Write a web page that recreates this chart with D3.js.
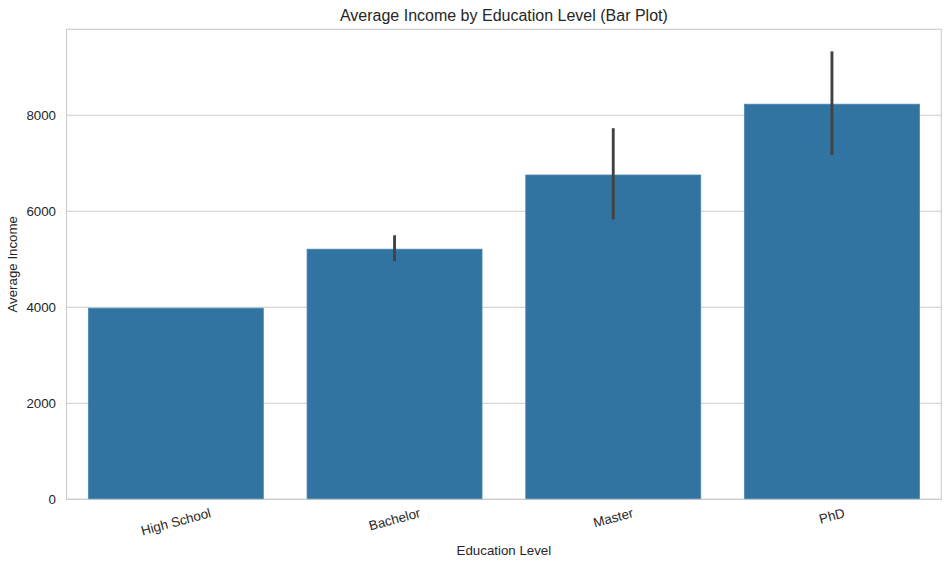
<!DOCTYPE html>
<html><head><meta charset="utf-8">
<script src="https://cdn.jsdelivr.net/npm/d3@7/dist/d3.min.js"></script>
<style>body{margin:0;background:#fff;} text{font-family:"Liberation Sans",Arial,sans-serif;fill:#262626;}</style>
</head><body><svg id="c" width="950" height="566"></svg>
<script>
const categories = ["High School","Bachelor","Master","PhD"];
const means = [3980, 5210, 6755, 8230];
const ciLow = [null, 4960, 5830, 7170];
const ciHigh = [null, 5500, 7730, 9330];
const yTicks = [0,2000,4000,6000,8000];
const yMax = 9790;

const svg = d3.select("#c");
const L=66.5, R=941.3, T=29.3, B=499.3;
const x = d3.scaleBand().domain(categories).range([L,R]).paddingInner(0.2).paddingOuter(0.1);
const y = d3.scaleLinear().domain([0,yMax]).range([B,T]);

// grid
svg.append("g").selectAll("line").data(yTicks).join("line")
  .attr("x1",L).attr("x2",R).attr("y1",d=>y(d)).attr("y2",d=>y(d))
  .attr("stroke","#cccccc").attr("stroke-width",1);

// bars
svg.append("g").selectAll("rect").data(categories).join("rect")
  .attr("x",d=>x(d)).attr("width",x.bandwidth())
  .attr("y",(d,i)=>y(means[i])).attr("height",(d,i)=>B-y(means[i]))
  .attr("fill","#3274a1").attr("stroke","#4a86b0").attr("stroke-width",0.8);

// error bars
svg.append("g").selectAll("line").data(categories.filter((d,i)=>ciLow[i]!==null)).join("line")
  .attr("x1",d=>x(d)+x.bandwidth()/2).attr("x2",d=>x(d)+x.bandwidth()/2)
  .attr("y1",d=>y(ciLow[categories.indexOf(d)])).attr("y2",d=>y(ciHigh[categories.indexOf(d)]))
  .attr("stroke","#424242").attr("stroke-width",2.9);

// frame
svg.append("rect").attr("x",L).attr("y",T).attr("width",R-L).attr("height",B-T)
  .attr("fill","none").attr("stroke","#cccccc").attr("stroke-width",1.1);

// y axis
const ya = svg.append("g").attr("transform",`translate(${L},0)`)
  .call(d3.axisLeft(y).tickValues(yTicks).tickSize(0).tickPadding(10.5).tickFormat(d3.format("d")));
ya.select(".domain").remove();
ya.selectAll("text").style("font-size","13.3px").style("font-family","Liberation Sans, Arial, sans-serif").attr("fill","#262626");

// x axis labels rotated
const xa = svg.append("g").attr("transform",`translate(0,${B})`)
  .call(d3.axisBottom(x).tickSize(0).tickPadding(0));
xa.select(".domain").remove();
xa.selectAll(".tick text").each(function(){
  const t=d3.select(this);
  t.style("font-size","13.3px").style("font-family","Liberation Sans, Arial, sans-serif").attr("fill","#262626");
  const w=this.getComputedTextLength();
  const h=15.5;
  const a=15*Math.PI/180;
  const cy=5.8+(w*Math.sin(a)+h*Math.cos(a))/2;
  t.attr("y",null).attr("dy",null).attr("dominant-baseline","central")
   .attr("transform",`translate(0,${cy}) rotate(-15)`);
});

// labels
svg.append("text").attr("x",(L+R)/2).attr("y",554.5).attr("text-anchor","middle")
  .style("font-size","13.3px").text("Education Level");
svg.append("text").attr("transform",`translate(17.3,${(T+B)/2}) rotate(-90)`).attr("text-anchor","middle")
  .style("font-size","13.3px").text("Average Income");
svg.append("text").attr("x",(L+R)/2).attr("y",20.8).attr("text-anchor","middle")
  .style("font-size","16px").text("Average Income by Education Level (Bar Plot)");
</script></body></html>
